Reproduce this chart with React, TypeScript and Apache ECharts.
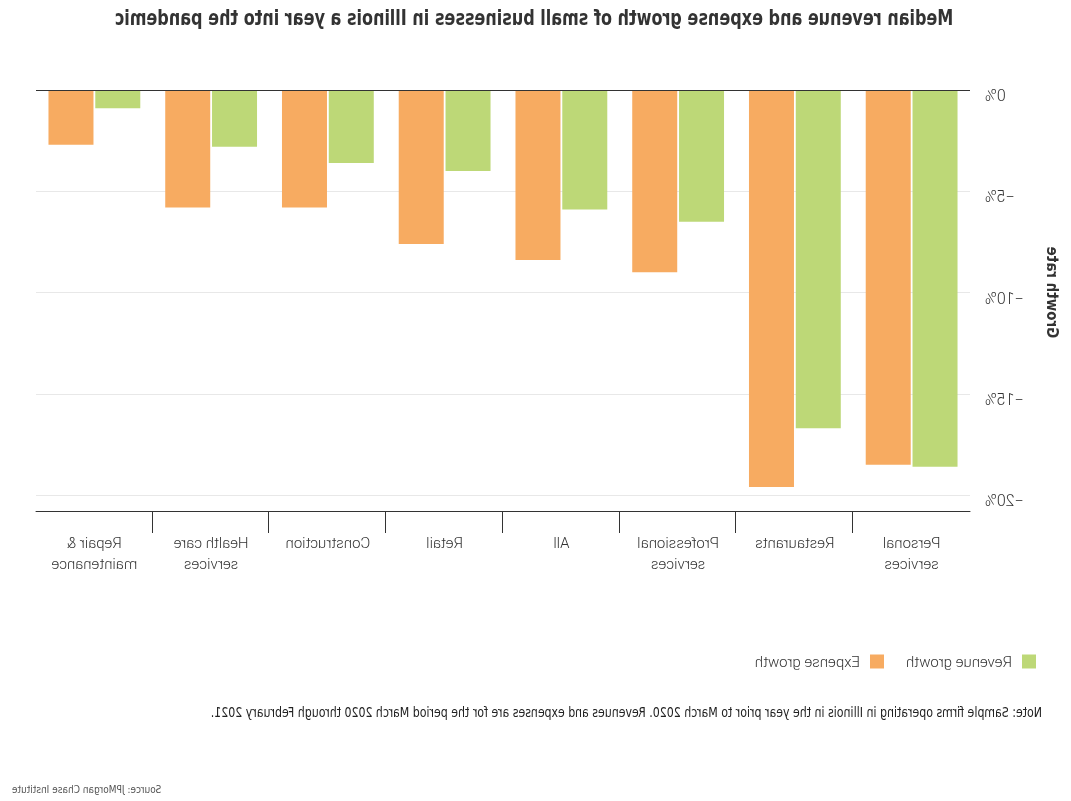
import React, { useEffect, useRef } from "react";
import * as echarts from "echarts";

const categories = [
  "Personal\nservices",
  "Restaurants",
  "Professional\nservices",
  "All",
  "Retail",
  "Construction",
  "Health care\nservices",
  "Repair &\nmaintenance",
];
const revenueGrowth = [-18.6, -16.7, -6.5, -5.9, -4.0, -3.6, -2.8, -0.9];
const expenseGrowth = [-18.5, -19.6, -9.0, -8.4, -7.6, -5.8, -5.8, -2.7];
const yTicks = { min: -20, max: 0, interval: 5 };
const seriesNames = ["Revenue growth", "Expense growth"];
const titleText =
  "Median revenue and expense growth of small businesses in Illinois a year into the pandemic";
const noteText =
  "Note: Sample firms operating in Illinois in the year prior to March 2020. Revenues and expenses are for the period March 2020 through February 2021.";
const sourceText = "Source: JPMorgan Chase Institute";

const GREEN = "#bdd877";
const ORANGE = "#f7ab61";
const NARROW = '"Liberation Sans Narrow", "Arial Narrow", "DejaVu Sans Condensed", sans-serif';
const LIGHT = 'Roboto, "Noto Sans", sans-serif';
const AXIS_OFFSET = 16;

export default function App() {
  const ref = useRef<HTMLDivElement>(null);
  useEffect(() => {
    if (!ref.current) return;
    const chart = echarts.init(ref.current, undefined, { renderer: "svg" });
    const separators = categories.slice(1).map((c) => [c, yTicks.min]);
    chart.setOption({
      animation: false,
      backgroundColor: "#ffffff",
      legend: {
        data: seriesNames,
        left: 30,
        top: 649,
        itemWidth: 14,
        itemHeight: 14,
        itemGap: 22,
        icon: "rect",
        textStyle: {
          fontFamily: LIGHT,
          fontWeight: 300,
          fontSize: 15,
          color: "#333",
          padding: [0, 0, 0, 5],
        },
      },
      grid: { left: 101, right: 36, top: 90, bottom: 306, containLabel: false },
      xAxis: {
        type: "category",
        data: categories,
        offset: AXIS_OFFSET,
        axisLine: { show: true, onZero: false, lineStyle: { color: "#333", width: 1 } },
        axisTick: { show: false },
        axisLabel: {
          margin: 21,
          interval: 0,
          lineHeight: 21,
          fontFamily: LIGHT,
          fontWeight: 300,
          fontSize: 15,
          color: "#333",
        },
      },
      yAxis: {
        type: "value",
        min: yTicks.min,
        max: yTicks.max,
        interval: yTicks.interval,
        name: "Growth rate",
        nameLocation: "middle",
        nameRotate: 90,
        nameGap: 75,
        nameTextStyle: { fontFamily: NARROW, fontWeight: "bold", fontSize: 15, color: "#333" },
        axisLine: { show: false },
        axisTick: { show: false },
        splitLine: { show: true, lineStyle: { color: "#e8e8e8", width: 1 } },
        axisLabel: {
          margin: 15,
          fontFamily: LIGHT,
          fontWeight: 300,
          fontSize: 16,
          color: "#333",
          verticalAlign: "top",
          lineHeight: 11,
          formatter: (v: number) => (v === 0 ? "0%" : "\u2212" + Math.abs(v) + "%"),
        },
      },
      series: [
        {
          name: seriesNames[0],
          type: "bar",
          data: revenueGrowth,
          barWidth: 45,
          barGap: "4%",
          itemStyle: { color: GREEN },
          markLine: {
            silent: true,
            symbol: ["none", "none"],
            label: { show: false },
            lineStyle: { color: "#333", width: 1, type: "solid" },
            data: [{ yAxis: 0 }],
            z: 10,
          },
        },
        {
          name: seriesNames[1],
          type: "bar",
          data: expenseGrowth,
          barWidth: 45,
          barGap: "4%",
          itemStyle: { color: ORANGE },
        },
        {
          type: "custom",
          silent: true,
          clip: false,
          encode: { x: 0, y: 1 },
          data: separators,
          renderItem: (params: any, api: any) => {
            const p = api.coord([api.value(0), api.value(1)]);
            const band = api.size([1, 0])[0];
            const x = Math.round(p[0] - band / 2) + 0.5;
            const y0 = p[1] + AXIS_OFFSET;
            return {
              type: "line",
              shape: { x1: x, y1: y0, x2: x, y2: y0 + 22 },
              style: { stroke: "#333", lineWidth: 1 },
            };
          },
          z: 5,
        },
      ],
      graphic: [
        {
          type: "text",
          x: 537,
          y: 18,
          scaleX: 0.85,
          style: {
            text: titleText,
            font: `bold 21px ${NARROW}`,
            fill: "#333",
            textAlign: "center",
            textVerticalAlign: "middle",
          },
        },
        {
          type: "text",
          x: 29,
          y: 712,
          scaleX: 0.874,
          style: {
            text: noteText,
            font: `14px ${NARROW}`,
            fill: "#222",
            textAlign: "left",
            textVerticalAlign: "middle",
          },
        },
        {
          type: "text",
          right: 12,
          top: 784,
          style: { text: sourceText, font: `10px ${NARROW}`, fill: "#555" },
        },
      ],
    });
    return () => chart.dispose();
  }, []);
  return (
    <div
      ref={ref}
      style={{
        position: "fixed",
        left: 0,
        top: 0,
        width: 1071,
        height: 801,
        transform: "scaleX(-1)",
      }}
    />
  );
}
